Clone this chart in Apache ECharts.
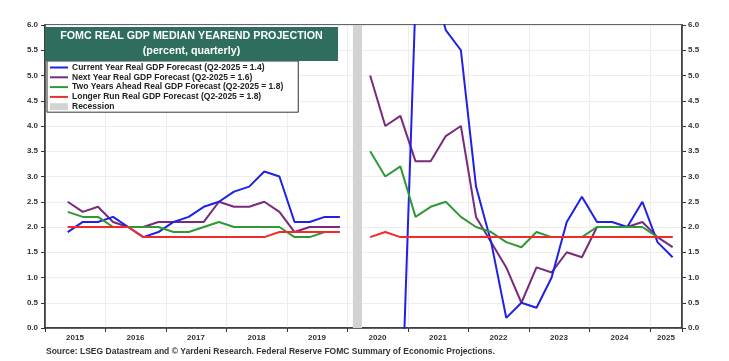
<!DOCTYPE html>
<html>
<head>
<meta charset="utf-8">
<script src="https://cdn.jsdelivr.net/npm/echarts@6/dist/echarts.min.js"></script>
<style>
html,body{margin:0;padding:0;background:#fff;}
#chart{width:729px;height:361px;}
</style>
</head>
<body>
<div id="chart"></div>
<script>
// Quarterly FOMC SEP medians (2020Q1 has no projection -> gap)
const quarters = [
  '2015Q2','2015Q3','2015Q4',
  '2016Q1','2016Q2','2016Q3','2016Q4',
  '2017Q1','2017Q2','2017Q3','2017Q4',
  '2018Q1','2018Q2','2018Q3','2018Q4',
  '2019Q1','2019Q2','2019Q3','2019Q4',
  '2020Q1','2020Q2','2020Q3','2020Q4',
  '2021Q1','2021Q2','2021Q3','2021Q4',
  '2022Q1','2022Q2','2022Q3','2022Q4',
  '2023Q1','2023Q2','2023Q3','2023Q4',
  '2024Q1','2024Q2','2024Q3','2024Q4',
  '2025Q1','2025Q2'
];
const currentYear = [1.9,2.1,2.1, 2.2,2.0,1.8,1.9, 2.1,2.2,2.4,2.5, 2.7,2.8,3.1,3.0, 2.1,2.1,2.2,2.2,
  null, -6.5,-3.7,-2.4, 6.5,7.0,5.9,5.5, 2.8,1.7,0.2,0.5, 0.4,1.0,2.1,2.6, 2.1,2.1,2.0,2.5, 1.7,1.4];
const nextYear = [2.5,2.3,2.4, 2.1,2.0,2.0,2.1, 2.1,2.1,2.1,2.5, 2.4,2.4,2.5,2.3, 1.9,2.0,2.0,2.0,
  null, 5.0,4.0,4.2, 3.3,3.3,3.8,4.0, 2.2,1.7,1.2,0.5, 1.2,1.1,1.5,1.4, 2.0,2.0,2.0,2.1, 1.8,1.6];
const twoYearsAhead = [2.3,2.2,2.2, 2.0,2.0,2.0,2.0, 1.9,1.9,2.0,2.1, 2.0,2.0,2.0,2.0, 1.8,1.8,1.9,1.9,
  null, 3.5,3.0,3.2, 2.2,2.4,2.5,2.2, 2.0,1.9,1.7,1.6, 1.9,1.8,1.8,1.8, 2.0,2.0,2.0,2.0, 1.8,1.8];
const longerRun = [2.0,2.0,2.0, 2.0,2.0,1.8,1.8, 1.8,1.8,1.8,1.8, 1.8,1.8,1.8,1.9, 1.9,1.9,1.9,1.9,
  null, 1.8,1.9,1.8, 1.8,1.8,1.8,1.8, 1.8,1.8,1.8,1.8, 1.8,1.8,1.8,1.8, 1.8,1.8,1.8,1.8, 1.8,1.8];
const recession = [2020.09, 2020.24];
const seriesNames = [
  'Current Year Real GDP Forecast (Q2-2025 = 1.4)',
  'Next Year Real GDP Forecast (Q2-2025 = 1.6)',
  'Two Years Ahead Real GDP Forecast (Q2-2025 = 1.8)',
  'Longer Run Real GDP Forecast (Q2-2025 = 1.8)',
  'Recession'
];

function qPos(q){ const y = +q.slice(0,4), n = +q.slice(5); return y + (n - 0.5) / 4; }
function pairs(vals){ return quarters.map((q,i)=>[qPos(q), vals[i] == null ? '-' : vals[i]]); }

const FONT = '"Liberation Sans", Arial, sans-serif';
const colors = ['#2020e6','#7a2a7a','#2f9a34','#f42a2a','#d3d3d3'];

const chart = echarts.init(document.getElementById('chart'), null, {renderer:'canvas'});
const lineSeries = (name, vals, color, z) => ({
  name, type:'line', data: pairs(vals), showSymbol:false, symbol:'none',
  connectNulls:false, clip:true, z,
  lineStyle:{color, width:2}, itemStyle:{color}, animation:false
});
chart.setOption({
  animation:false,
  grid:{left:45, right:47, top:25, bottom:33, show:true, borderColor:'#333', borderWidth:1.5, backgroundColor:'transparent'},
  xAxis:{
    type:'value', min:2015, max:2025.53, interval:1,
    axisLine:{show:true, lineStyle:{color:'#333', width:1.5}},
    axisTick:{show:true, length:4, lineStyle:{color:'#333'}},
    splitLine:{show:true, lineStyle:{color:'#ededed', width:1}},
    axisLabel:{
      margin:6, showMinLabel:true,
      formatter:(v)=> Number.isInteger(v) ? (v === 2025 ? '{e|2025}' : '{m|' + v + '}') : '',
      rich:{
        m:{padding:[0,0,0,60], fontFamily:FONT, fontSize:8, fontWeight:'bold', color:'#333'},
        e:{padding:[0,0,0,32], fontFamily:FONT, fontSize:8, fontWeight:'bold', color:'#333'}
      }
    }
  },
  yAxis:[
    {type:'value', min:0, max:6, interval:0.5, position:'left',
     axisLine:{show:true, lineStyle:{color:'#333', width:1.5}},
     axisTick:{show:true, length:4, lineStyle:{color:'#333'}},
     splitLine:{show:true, lineStyle:{color:'#ededed'}},
     axisLabel:{margin:7, fontFamily:FONT, fontSize:8, fontWeight:'bold', color:'#333', formatter:v=>v.toFixed(1)}},
    {type:'value', min:0, max:6, interval:0.5, position:'right',
     axisLine:{show:true, lineStyle:{color:'#333', width:1.5}},
     axisTick:{show:true, length:4, lineStyle:{color:'#333'}},
     splitLine:{show:false},
     axisLabel:{margin:6, fontFamily:FONT, fontSize:8, fontWeight:'bold', color:'#333', formatter:v=>v.toFixed(1)}}
  ],
  legend:{
    orient:'vertical', left:47, top:61,
    padding:[2,15,1,2], itemGap:0.8, itemWidth:18, itemHeight:7,
    backgroundColor:'#fff', borderColor:'#333', borderWidth:1,
    textStyle:{fontFamily:FONT, fontSize:8.5, fontWeight:'bold', color:'#222', padding:[0,0,0,-1]},
    itemStyle:{opacity:0},
    data:[
      {name:seriesNames[0]}, {name:seriesNames[1]}, {name:seriesNames[2]}, {name:seriesNames[3]},
      {name:seriesNames[4], icon:'rect', itemStyle:{opacity:1, color:colors[4]}}
    ],
    selectedMode:false
  },
  graphic:[
    {type:'rect', left:45, top:27, shape:{width:293, height:34}, style:{fill:'#2f6e5f'}, z:10},
    {type:'text', x:191.5, y:36, z:11, style:{text:'FOMC REAL GDP MEDIAN YEAREND PROJECTION', fill:'#fff',
      font:'bold 10.7px ' + FONT, textAlign:'center', textVerticalAlign:'middle'}},
    {type:'text', x:191.5, y:51.5, z:11, style:{text:'(percent, quarterly)', fill:'#fff',
      font:'bold 10.7px ' + FONT, textAlign:'center', textVerticalAlign:'middle'}},
    {type:'text', x:46, y:352, z:11, style:{text:'Source: LSEG Datastream and \u00a9 Yardeni Research. Federal Reserve FOMC Summary of Economic Projections.',
      fill:'#333', font:'bold 8.5px ' + FONT, textAlign:'left', textVerticalAlign:'middle'}}
  ],
  series:[
    {name:seriesNames[4], type:'line', data:[], itemStyle:{color:colors[4]}, lineStyle:{color:colors[4]}, z:1,
     markArea:{silent:true, itemStyle:{color:colors[4]}, data:[[{xAxis:recession[0]},{xAxis:recession[1]}]]}},
    lineSeries(seriesNames[1], nextYear, colors[1], 2),
    lineSeries(seriesNames[0], currentYear, colors[0], 3),
    lineSeries(seriesNames[2], twoYearsAhead, colors[2], 4),
    lineSeries(seriesNames[3], longerRun, colors[3], 5)
  ]
});
</script>
</body>
</html>
